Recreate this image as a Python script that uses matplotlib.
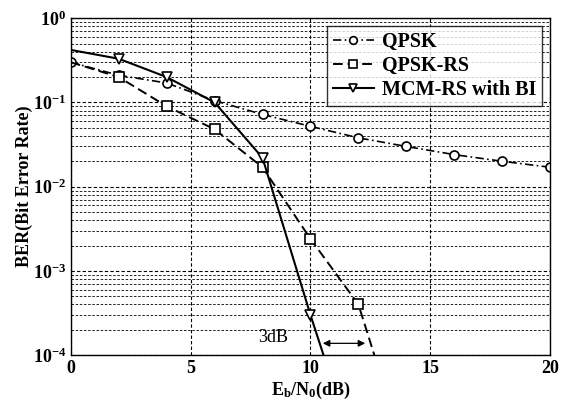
import matplotlib
matplotlib.use("Agg")
import matplotlib.pyplot as plt
from matplotlib.ticker import LogLocator, NullFormatter

# Data
ebn0_qpsk = [0, 2, 4, 6, 8, 10, 12, 14, 16, 18, 20]
ber_qpsk = [0.30, 0.21, 0.17, 0.105, 0.072, 0.052, 0.038, 0.030, 0.024, 0.020, 0.017]

ebn0_rs = [0, 2, 4, 6, 8, 10, 12, 13]
ber_rs = [0.30, 0.20, 0.090, 0.048, 0.017, 0.0024, 0.0004, 0.00005]

ebn0_mcm = [0, 2, 4, 6, 8, 10, 11]
ber_mcm = [0.42, 0.33, 0.20, 0.10, 0.022, 0.0003, 0.00004]

labels = ["QPSK", "QPSK-RS", "MCM-RS with BI"]
xticks = [0, 5, 10, 15, 20]

plt.rcParams['font.family'] = ['Liberation Serif', 'DejaVu Serif']
plt.rcParams['mathtext.fontset'] = 'custom'
plt.rcParams['mathtext.rm'] = 'Liberation Serif:bold'
plt.rcParams['mathtext.bf'] = 'Liberation Serif:bold'
plt.rcParams['mathtext.it'] = 'Liberation Serif:bold'
plt.rcParams['mathtext.default'] = 'bf'

fig = plt.figure(figsize=(5.66, 4.04), dpi=100)
ax = fig.add_axes([0.125, 0.121, 0.847, 0.834])

mk = dict(markerfacecolor='white', markeredgecolor='black', markersize=6.5, markeredgewidth=1.2)
ax.semilogy(ebn0_qpsk, ber_qpsk, color='black', linestyle=(0, (5, 2, 1, 2)), lw=1.2,
            marker='o', label=labels[0], **mk)
ax.semilogy(ebn0_rs, ber_rs, color='black', linestyle=(0, (5, 2.5)), lw=1.4,
            marker='s', label=labels[1], markevery=list(range(1, 7)), **mk)
ax.semilogy(ebn0_mcm, ber_mcm, color='black', linestyle='-', lw=1.5,
            marker='v', label=labels[2], markevery=list(range(1, 6)), **mk)

ax.set_xlim(0, 20)
ax.set_ylim(1e-4, 1)
ax.set_xticks(xticks)
ax.yaxis.set_major_locator(LogLocator(base=10, numticks=10))
ax.yaxis.set_minor_locator(LogLocator(base=10, subs=range(2, 10), numticks=10))
ax.yaxis.set_minor_formatter(NullFormatter())

ax.grid(True, which='major', axis='both', color='black', linestyle=(0, (3, 2)), lw=0.8)
ax.grid(True, which='minor', axis='y', color='black', linestyle=(0, (3, 2)), lw=0.6)
ax.tick_params(which='both', direction='in', length=0)

for lbl in ax.get_xticklabels() + ax.get_yticklabels():
    lbl.set_fontweight('bold')
    lbl.set_fontsize(13)

ax.set_xlabel(r'E$_b$/N$_0$(dB)', fontsize=13, fontweight='bold', labelpad=2)
ax.set_ylabel('BER(Bit Error Rate)', fontsize=13, fontweight='bold', labelpad=0)

ax.annotate('', xy=(10.4, 1.38e-4), xytext=(12.4, 1.38e-4),
            arrowprops=dict(arrowstyle='<|-|>', color='black', lw=0.9,
                            mutation_scale=10))
ax.text(8.45, 1.6e-4, '3dB', ha='center', va='center', fontsize=13)

leg = ax.legend(loc='upper right', prop={'weight': 'bold', 'size': 14.5},
                frameon=True, fancybox=False, edgecolor='black', handlelength=2.0,
                borderaxespad=0.4, labelspacing=0.2, handletextpad=0.4,
                borderpad=0.3, markerscale=0.85)
leg.get_frame().set_linewidth(1.0)

for s in ax.spines.values():
    s.set_linewidth(1.0)

fig.savefig('out.png', dpi=100)
